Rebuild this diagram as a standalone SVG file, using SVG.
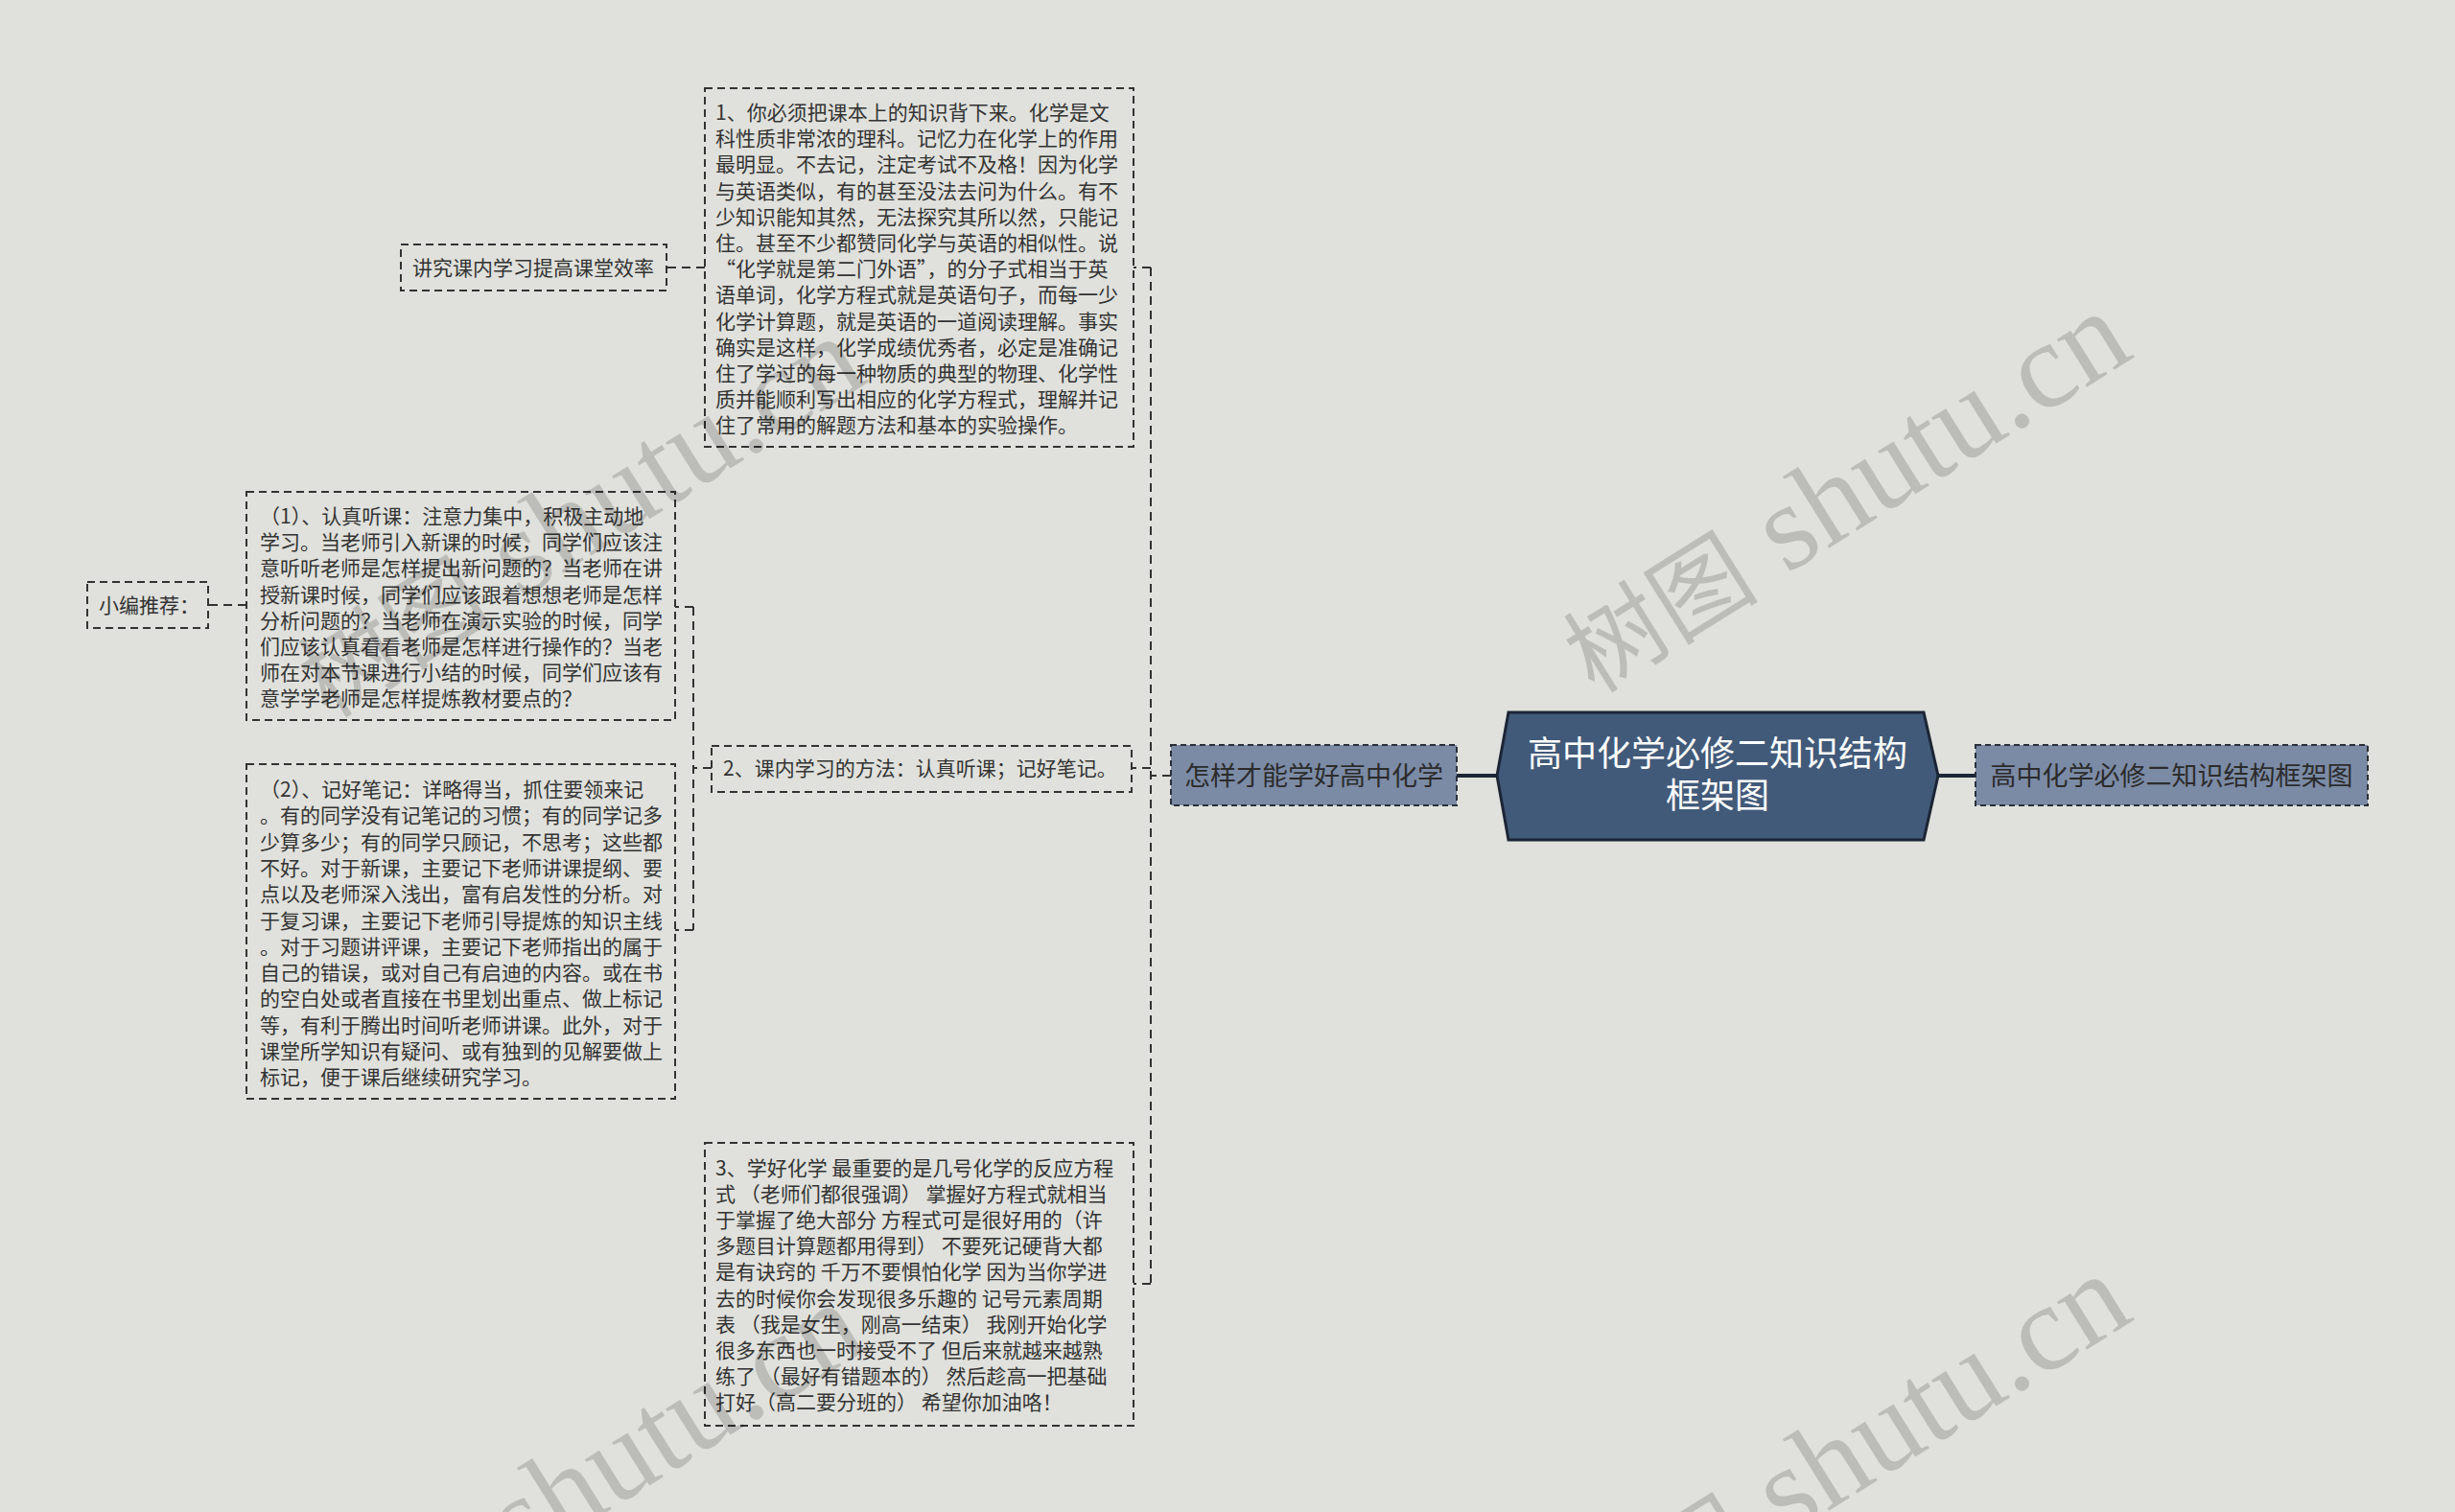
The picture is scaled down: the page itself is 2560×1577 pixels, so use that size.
<svg xmlns="http://www.w3.org/2000/svg" width="2560" height="1577" viewBox="0 0 2560 1577">
<style>
.bg{fill:#e0e1dc}
.box{fill:#e0e1dc;stroke:#333;stroke-width:2;stroke-dasharray:8 5}
.t{font-family:"Noto Sans CJK SC","Noto Sans",sans-serif;font-size:21px;fill:#333}
.conn{fill:none;stroke:#333;stroke-width:2;stroke-dasharray:9 6}
.solid{fill:none;stroke:#1c2636;stroke-width:4}
.blue{fill:#7b8ba6;stroke:#2a2f38;stroke-width:2;stroke-dasharray:6 4}
.bt{font-family:"Noto Sans CJK SC","Noto Sans",sans-serif;font-size:27px;fill:#2b2b2b;text-anchor:middle}
.ct{font-family:"Noto Sans CJK SC","Noto Sans",sans-serif;font-size:36px;fill:#ffffff;text-anchor:middle}
.wm{font-family:"Liberation Serif","Noto Sans CJK SC",serif;font-size:128px;fill:#000;fill-opacity:0.16;text-anchor:middle}
.wmc{font-size:102px}
</style>
<rect class="bg" x="0" y="0" width="2560" height="1577"/>

<g id="connectors">
  <line class="solid" x1="1519" y1="809" x2="1561" y2="809"/>
  <line class="solid" x1="2021" y1="809" x2="2060" y2="809"/>
  <path class="conn" d="M1221,809 H1200"/>
  <path class="conn" d="M1200,279 V1339"/>
  <path class="conn" d="M1200,279 H1182"/>
  <path class="conn" d="M1200,801 H1180"/>
  <path class="conn" d="M1200,1339 H1182"/>
  <path class="conn" d="M735,279 H695"/>
  <path class="conn" d="M742,801 H723"/>
  <path class="conn" d="M723,633 V970"/>
  <path class="conn" d="M723,633 H704"/>
  <path class="conn" d="M723,970 H704"/>
  <path class="conn" d="M257,631 H217"/>
</g>

<g id="center">
  <polygon points="1561,809 1573,743 2006,743 2021,809 2006,876 1573,876" fill="#425a79" stroke="#1b2535" stroke-width="3"/>
  <text class="ct" x="1791" y="799">高中化学必修二知识结构</text>
  <text class="ct" x="1791" y="843">框架图</text>
</g>

<g id="right-node">
  <rect class="blue" x="2060" y="777" width="409" height="63"/>
  <text class="bt" x="2264.5" y="819">高中化学必修二知识结构框架图</text>
</g>

<g id="left-node">
  <rect class="blue" x="1221" y="777" width="298" height="63"/>
  <text class="bt" x="1370" y="819">怎样才能学好高中化学</text>
</g>

<g id="node1">
  <rect class="box" x="735" y="92" width="447" height="374"/>
  <text class="t" x="746" y="125">
    <tspan x="746" y="125">1、你必须把课本上的知识背下来。化学是文</tspan>
    <tspan x="746" dy="27.2">科性质非常浓的理科。记忆力在化学上的作用</tspan>
    <tspan x="746" dy="27.2">最明显。不去记，注定考试不及格！因为化学</tspan>
    <tspan x="746" dy="27.2">与英语类似，有的甚至没法去问为什么。有不</tspan>
    <tspan x="746" dy="27.2">少知识能知其然，无法探究其所以然，只能记</tspan>
    <tspan x="746" dy="27.2">住。甚至不少都赞同化学与英语的相似性。说</tspan>
    <tspan x="746" dy="27.2">“化学就是第二门外语”，的分子式相当于英</tspan>
    <tspan x="746" dy="27.2">语单词，化学方程式就是英语句子，而每一少</tspan>
    <tspan x="746" dy="27.2">化学计算题，就是英语的一道阅读理解。事实</tspan>
    <tspan x="746" dy="27.2">确实是这样，化学成绩优秀者，必定是准确记</tspan>
    <tspan x="746" dy="27.2">住了学过的每一种物质的典型的物理、化学性</tspan>
    <tspan x="746" dy="27.2">质并能顺利写出相应的化学方程式，理解并记</tspan>
    <tspan x="746" dy="27.2">住了常用的解题方法和基本的实验操作。</tspan>
  </text>
</g>

<g id="node1-1">
  <rect class="box" x="418" y="255" width="277" height="48"/>
  <text class="t" x="430" y="287">讲究课内学习提高课堂效率</text>
</g>

<g id="node2">
  <rect class="box" x="742" y="778" width="438" height="48"/>
  <text class="t" x="754" y="809">2、课内学习的方法：认真听课；记好笔记。</text>
</g>

<g id="node2-1">
  <rect class="box" x="257" y="513" width="447" height="238"/>
  <text class="t" x="271" y="546">
    <tspan x="271" y="546">（1）、认真听课：注意力集中，积极主动地</tspan>
    <tspan x="271" dy="27.2">学习。当老师引入新课的时候，同学们应该注</tspan>
    <tspan x="271" dy="27.2">意听听老师是怎样提出新问题的？当老师在讲</tspan>
    <tspan x="271" dy="27.2">授新课时候，同学们应该跟着想想老师是怎样</tspan>
    <tspan x="271" dy="27.2">分析问题的？当老师在演示实验的时候，同学</tspan>
    <tspan x="271" dy="27.2">们应该认真看看老师是怎样进行操作的？当老</tspan>
    <tspan x="271" dy="27.2">师在对本节课进行小结的时候，同学们应该有</tspan>
    <tspan x="271" dy="27.2">意学学老师是怎样提炼教材要点的？</tspan>
  </text>
</g>

<g id="node2-1-1">
  <rect class="box" x="91" y="607" width="126" height="48"/>
  <text class="t" x="103" y="639">小编推荐：</text>
</g>

<g id="node2-2">
  <rect class="box" x="257" y="797" width="447" height="349"/>
  <text class="t" x="271" y="831">
    <tspan x="271" y="831">（2）、记好笔记：详略得当，抓住要领来记</tspan>
    <tspan x="271" dy="27.3">。有的同学没有记笔记的习惯；有的同学记多</tspan>
    <tspan x="271" dy="27.3">少算多少；有的同学只顾记，不思考；这些都</tspan>
    <tspan x="271" dy="27.3">不好。对于新课，主要记下老师讲课提纲、要</tspan>
    <tspan x="271" dy="27.3">点以及老师深入浅出，富有启发性的分析。对</tspan>
    <tspan x="271" dy="27.3">于复习课，主要记下老师引导提炼的知识主线</tspan>
    <tspan x="271" dy="27.3">。对于习题讲评课，主要记下老师指出的属于</tspan>
    <tspan x="271" dy="27.3">自己的错误，或对自己有启迪的内容。或在书</tspan>
    <tspan x="271" dy="27.3">的空白处或者直接在书里划出重点、做上标记</tspan>
    <tspan x="271" dy="27.3">等，有利于腾出时间听老师讲课。此外，对于</tspan>
    <tspan x="271" dy="27.3">课堂所学知识有疑问、或有独到的见解要做上</tspan>
    <tspan x="271" dy="27.3">标记，便于课后继续研究学习。</tspan>
  </text>
</g>

<g id="node3">
  <rect class="box" x="735" y="1192" width="447" height="295"/>
  <text class="t" x="746" y="1226">
    <tspan x="746" y="1226">3、学好化学 最重要的是几号化学的反应方程</tspan>
    <tspan x="746" dy="27.1">式 （老师们都很强调） 掌握好方程式就相当</tspan>
    <tspan x="746" dy="27.1">于掌握了绝大部分 方程式可是很好用的（许</tspan>
    <tspan x="746" dy="27.1">多题目计算题都用得到） 不要死记硬背大都</tspan>
    <tspan x="746" dy="27.1">是有诀窍的 千万不要惧怕化学 因为当你学进</tspan>
    <tspan x="746" dy="27.1">去的时候你会发现很多乐趣的 记号元素周期</tspan>
    <tspan x="746" dy="27.1">表 （我是女生，刚高一结束） 我刚开始化学</tspan>
    <tspan x="746" dy="27.1">很多东西也一时接受不了 但后来就越来越熟</tspan>
    <tspan x="746" dy="27.1">练了 （最好有错题本的） 然后趁高一把基础</tspan>
    <tspan x="746" dy="27.1">打好（高二要分班的） 希望你加油咯！</tspan>
  </text>
</g>

<g id="watermarks">
  <text class="wm" transform="translate(1924,514) rotate(-32)" y="40"><tspan class="wmc">树图</tspan> shutu.cn</text>
  <text class="wm" transform="translate(1924,1518) rotate(-32)" y="40"><tspan class="wmc">树图</tspan> shutu.cn</text>
  <text class="wm" transform="translate(604,540) rotate(-32)" y="40"><tspan class="wmc">树图</tspan> shutu.cn</text>
  <text class="wm" transform="translate(604,1548) rotate(-32)" y="40"><tspan class="wmc">树图</tspan> shutu.cn</text>
</g>
</svg>
